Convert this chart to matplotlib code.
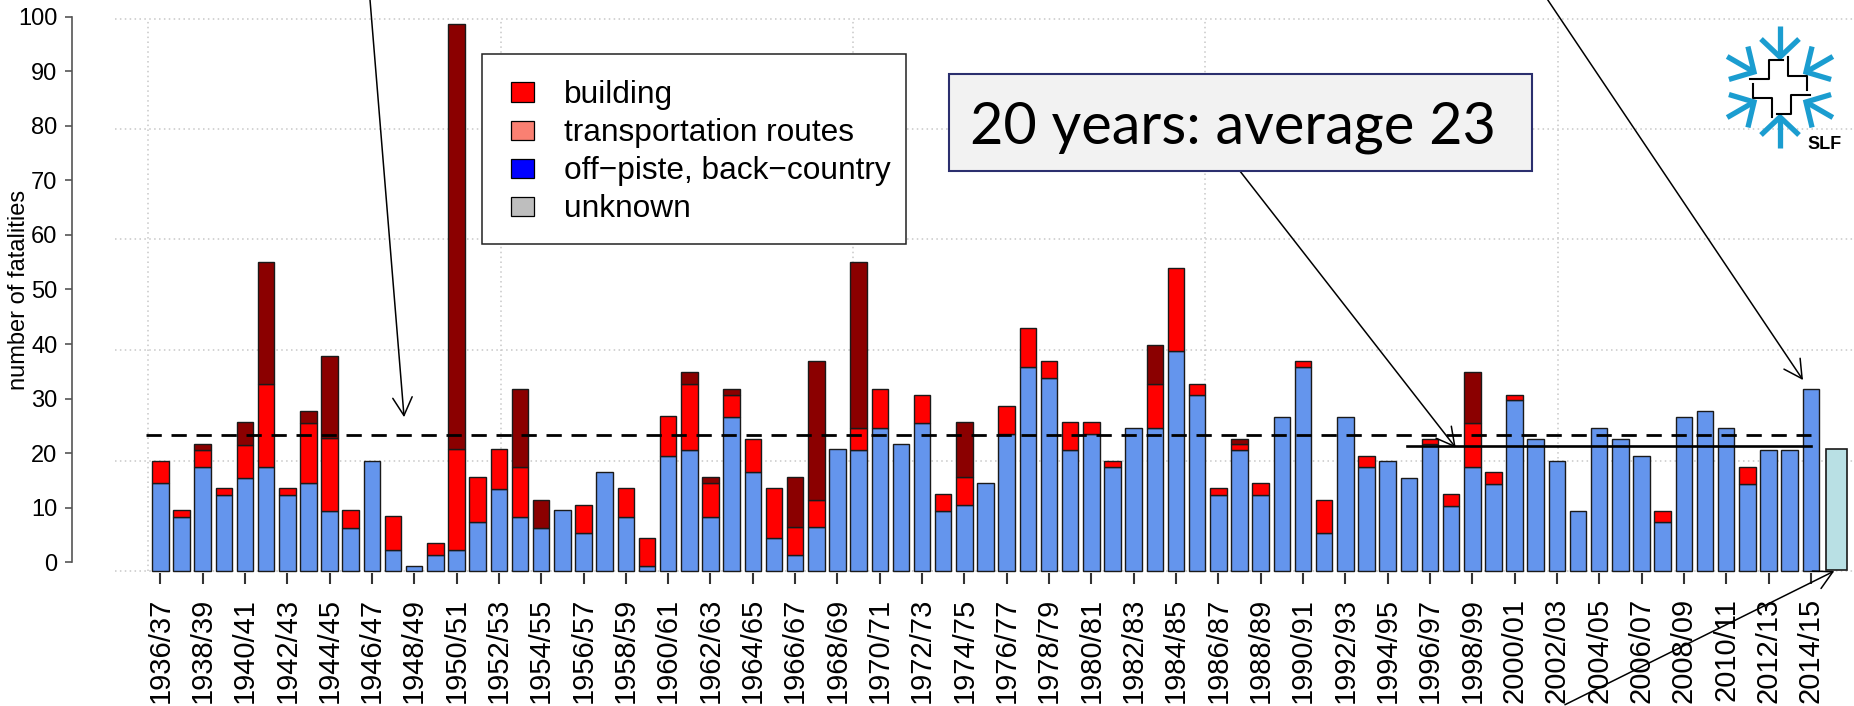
import numpy as np
import matplotlib.pyplot as plt
import matplotlib.transforms as mtransforms
from matplotlib.patches import Rectangle
from matplotlib.lines import Line2D

plt.rcParams['font.family'] = ['Liberation Sans', 'DejaVu Sans']

# season labels (every second season is labelled)
tick_labels = ["1936/37", "1938/39", "1940/41", "1942/43", "1944/45", "1946/47",
               "1948/49", "1950/51", "1952/53", "1954/55", "1956/57", "1958/59",
               "1960/61", "1962/63", "1964/65", "1966/67", "1968/69", "1970/71",
               "1972/73", "1974/75", "1976/77", "1978/79", "1980/81", "1982/83",
               "1984/85", "1986/87", "1988/89", "1990/91", "1992/93", "1994/95",
               "1996/97", "1998/99", "2000/01", "2002/03", "2004/05", "2006/07",
               "2008/09", "2010/11", "2012/13", "2014/15"]

# tops of the stacked segments, read against the y axis of the picture
blue_top = [14.6, 8.3, 17.5, 12.4, 15.5, 17.5, 12.4, 14.6, 9.4, 6.3,
            18.6, 2.3, -0.7, 1.3, 2.3, 7.4, 13.4, 8.3, 6.3, 9.5,
            5.4, 16.6, 8.3, -0.7, 19.5, 20.5, 8.3, 26.6, 16.5, 4.4,
            1.4, 6.4, 20.7, 20.5, 24.7, 21.7, 25.6, 9.4, 10.5, 14.6,
            23.6, 35.8, 33.8, 20.5, 23.6, 17.5, 24.7, 24.7, 38.8, 30.7,
            12.4, 20.5, 12.4, 26.6, 35.7, 5.4, 26.6, 17.5, 18.5, 15.5,
            21.6, 10.4, 17.5, 14.4, 29.7, 22.6, 18.5, 9.4, 24.6, 22.6,
            19.5, 7.3, 26.6, 27.7, 24.6, 14.4, 20.5, 20.5, 31.7]
red_top = [18.6, 9.5, 20.6, 13.6, 21.5, 32.7, 13.6, 25.6, 22.7, 9.5,
           18.6, 8.5, -0.7, 3.5, 20.7, 15.6, 20.7, 17.5, 6.3, 9.5,
           10.5, 16.6, 13.6, 4.4, 26.8, 32.7, 14.6, 30.6, 22.6, 13.6,
           6.4, 11.5, 20.7, 24.7, 31.7, 21.7, 30.7, 12.5, 15.6, 14.6,
           28.7, 42.9, 36.8, 25.8, 25.8, 18.6, 24.7, 32.7, 54.0, 32.7,
           13.6, 21.6, 14.6, 26.6, 36.8, 11.5, 26.6, 19.5, 18.5, 15.5,
           22.6, 12.5, 25.6, 16.5, 30.7, 22.6, 18.5, 9.4, 24.6, 22.6,
           19.5, 9.4, 26.6, 27.7, 24.6, 17.5, 20.5, 20.5, 31.7]
total = [18.6, 9.5, 21.6, 13.6, 25.8, 55.1, 13.6, 27.8, 37.8, 9.5,
         18.6, 8.5, -0.7, 3.5, 98.6, 15.6, 20.7, 31.7, 11.5, 9.5,
         10.5, 16.6, 13.6, 4.4, 26.8, 34.8, 15.6, 31.7, 22.6, 13.6,
         15.6, 36.8, 20.7, 55.1, 31.7, 21.7, 30.7, 12.5, 25.8, 14.6,
         28.7, 42.9, 36.8, 25.8, 25.8, 18.6, 24.7, 39.9, 54.0, 32.7,
         13.6, 22.6, 14.6, 26.6, 36.8, 11.5, 26.6, 19.5, 18.5, 15.5,
         22.6, 12.5, 34.8, 16.5, 30.7, 22.6, 18.5, 9.4, 24.6, 22.6,
         19.5, 9.4, 26.6, 27.7, 24.6, 17.5, 20.5, 20.5, 31.7]
current_season = 20.7

avg_all = 23.4
avg_20y = 21.4

legend_labels = ["building", "transportation routes", "off\u2212piste, back\u2212country", "unknown"]
legend_colors = ["#ff0000", "#fa8072", "#0000ff", "#bebebe"]

W, H = 1854, 706
fig = plt.figure(figsize=(W / 100, H / 100), dpi=100)
ax = fig.add_axes([72 / W, (H - 573) / H, (W - 72) / W, 573 / H])
# pixel coordinates, origin top left
pix = mtransforms.Affine2D().scale(1 / W, -1 / H).translate(0, 1) + fig.transFigure

blue_top = np.array(blue_top)
red_top = np.array(red_top)
total = np.array(total)
x = np.arange(len(total))
base = -1.65
edge = dict(edgecolor='#1a1a1a', linewidth=1.0, zorder=3)

ax.bar(x, blue_top - base, bottom=base, width=0.78, color='#6495ed', **edge)
m = red_top > blue_top
ax.bar(x[m], (red_top - blue_top)[m], bottom=blue_top[m], width=0.78, color='#ff0000', **edge)
m = total > red_top
ax.bar(x[m], (total - red_top)[m], bottom=red_top[m], width=0.78, color='#8b0000', **edge)
ax.bar([79.2], [current_season + 1.4], bottom=-1.4, width=1.0, color='#b9e0e4',
       edgecolor='#1a1a1a', linewidth=1.2, zorder=3)

# dotted grid (offset like in the original)
for gy in [-1.6, 18.6, 38.9, 59.2, 79.4, 99.6]:
    ax.plot([-2.14, 80.1], [gy, gy], color='#c8c8c8', lw=1.1, ls=(0, (1, 2.2)), zorder=1)
for gx in [-0.58, 16.1, 32.74, 49.37, 66.05]:
    ax.plot([gx, gx], [-1.6, 99.6], color='#c8c8c8', lw=1.1, ls=(0, (1, 2.2)), zorder=1)

# average lines
ax.plot([-0.66, 78.0], [avg_all, avg_all], color='black', lw=2.0, ls=(0, (5.5, 3.5)), zorder=4)
ax.plot([58.9, 78.0], [avg_20y, avg_20y], color='black', lw=1.9, zorder=4)

ax.set_xlim(-4.173, 80.04)
ax.set_ylim(-1.96, 103.04)
for s in ['top', 'right', 'bottom']:
    ax.spines[s].set_visible(False)
ax.spines['left'].set_bounds(0, 100)
ax.spines['left'].set_color('#555555')
ax.spines['left'].set_linewidth(1.2)
ax.set_yticks(np.arange(0, 101, 10))
ax.tick_params(axis='y', length=5, width=1.2, pad=5.5, labelsize=17, color='#555555')
ax.set_xticks(x[::2])
ax.set_xticklabels(tick_labels, rotation=90, fontsize=21)
ax.tick_params(axis='x', length=8, width=1.5, pad=10, color='#333333')
ax.patch.set_alpha(0)

fig.text(19, 290, "number of fatalities", transform=pix, rotation=90,
         fontsize=17, ha='center', va='center')

# arrows
arrows = [((9.91, 103.1), (11.52, 26.6)),
          ((51.02, 71.7), (61.22, 21.0)),
          ((65.56, 103.1), (77.63, 33.4)),
          ((66.38, -26.1), (79.11, -1.6))]
for tail, tip in arrows:
    ax.annotate('', xy=tip, xytext=tail, annotation_clip=False, zorder=6,
                arrowprops=dict(arrowstyle='->,head_length=1.3,head_width=0.7',
                                mutation_scale=10, lw=1.1, color='black',
                                shrinkA=0, shrinkB=0))

# legend box
fig.add_artist(Rectangle((482, 54), 424, 190, transform=pix, facecolor='white',
                         edgecolor='#222222', linewidth=1.1, zorder=5))
for i, (lab, col) in enumerate(zip(legend_labels, legend_colors)):
    yc = 92 + i * 38.2
    fig.add_artist(Rectangle((511, yc - 9.7), 23, 19.4, transform=pix, facecolor=col,
                             edgecolor='black', linewidth=0.9, zorder=6))
    fig.text(564, yc + 10.7, lab, transform=pix, fontsize=22.8, ha='left', va='baseline', zorder=6)

# "20 years" box
fig.add_artist(Rectangle((949, 74), 583, 97, transform=pix, facecolor='#f2f2f2',
                         edgecolor='#2b2f6e', linewidth=1.5, zorder=5))
fig.text(1232.8, 144, "20 years: average 23", transform=pix, family=['Lato', 'DejaVu Sans'],
         fontsize=41.5, ha='center', va='baseline', zorder=6)

# SLF logo
cx, cy = 1780, 87
for ang in [90, 30, -30, -90, -150, 150]:
    ux, uy = np.cos(np.radians(ang)), -np.sin(np.radians(ang))
    vx, vy = -uy, ux
    fig.add_artist(Line2D([cx + 30 * ux, cx + 61 * ux], [cy + 30 * uy, cy + 61 * uy],
                          transform=pix, color='#1b9dd0', lw=3.8, solid_capstyle='butt'))
    fig.add_artist(Line2D([cx + 48 * ux + 19 * vx, cx + 30 * ux, cx + 48 * ux - 19 * vx],
                          [cy + 48 * uy + 19 * vy, cy + 30 * uy, cy + 48 * uy - 19 * vy],
                          transform=pix, color='#1b9dd0', lw=3.8, solid_capstyle='butt',
                          solid_joinstyle='miter'))
piece = np.array([(-30, 8.3), (-10.7, 8.3), (-10.7, 26.7), (2.7, 26.7)])
for k in range(4):
    a = -np.pi / 2 * k
    rot = np.array([[np.cos(a), -np.sin(a)], [np.sin(a), np.cos(a)]])
    p = piece @ rot.T
    fig.add_artist(Line2D(cx + p[:, 0], cy - p[:, 1], transform=pix, color='black', lw=1.5))
fig.text(1807, 149, "SLF", transform=pix, fontsize=13, fontweight='bold',
         ha='left', va='baseline')

fig.savefig('out.png', dpi=100)
